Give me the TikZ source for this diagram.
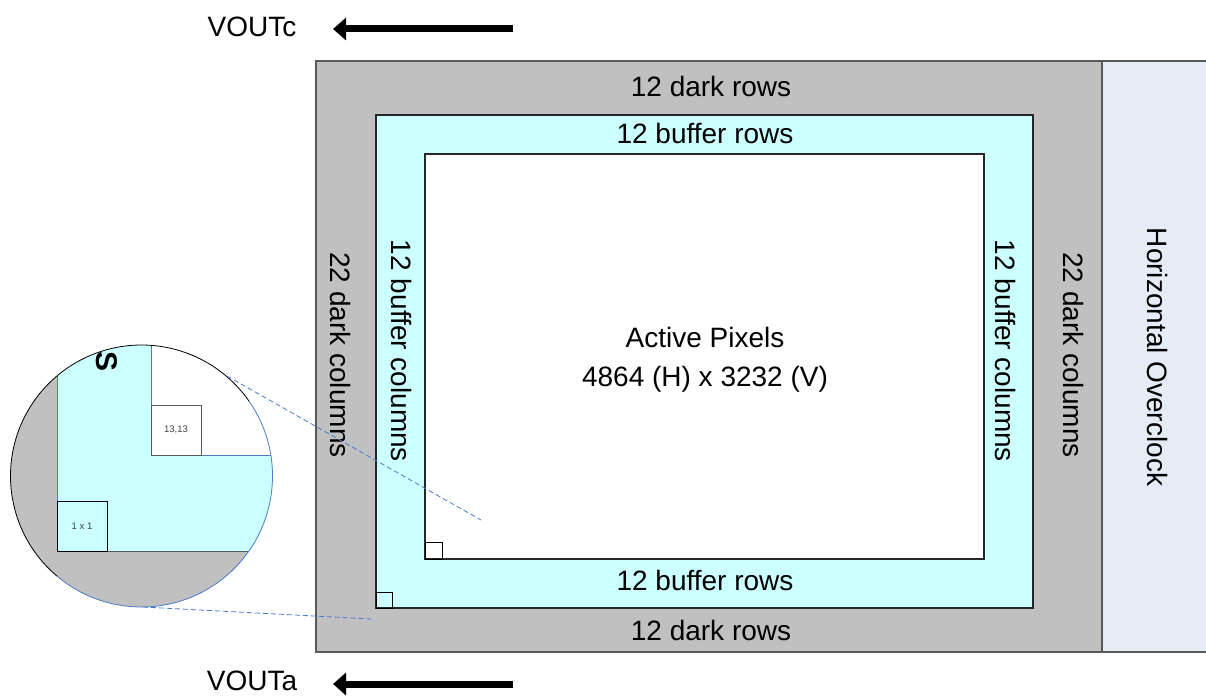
\documentclass[tikz,border=0pt]{standalone}
\usepackage{fontspec}
\setmainfont{Liberation Sans}
\usetikzlibrary{arrows.meta}
\definecolor{darkfill}{HTML}{C0C0C0}
\definecolor{buf}{HTML}{CCFFFF}
\definecolor{ovc}{HTML}{E6ECF6}
\definecolor{zoomblue}{HTML}{4A7BCB}
\definecolor{edgegray}{HTML}{595959}
\definecolor{txtgray}{HTML}{404040}
\begin{document}
\begin{tikzpicture}[x=1pt,y=-1pt,
  lbl/.style={font=\fontsize{28}{30}\selectfont, inner sep=0pt},
  blbl/.style={lbl, anchor=base},
  vlbl/.style={lbl, rotate=-90},
  small/.style={font=\fontsize{9.5}{10}\selectfont, text=txtgray, inner sep=0pt},
  bigarrow/.style={line width=7pt, -{Triangle[length=13pt,width=22pt]}},
  zoomline/.style={draw=zoomblue, dashed, dash pattern=on 5pt off 3pt, line width=0.8pt}]
\useasboundingbox (0,0) rectangle (1206,698);

% overclock region
\fill[ovc] (1102,61) rectangle (1206,652);
\draw[edgegray, line width=1.5pt] (1102,61) -- (1206,61);
\draw[edgegray, line width=1.5pt] (1102,652) -- (1206,652);
% dark region
\draw[fill=darkfill, draw=edgegray, line width=1.5pt] (316,61) rectangle (1102,652);
% buffer region
\draw[fill=buf, draw=black!85, line width=1.2pt] (376,115) rectangle (1033,608);
% active region
\draw[fill=white, draw=black!85, line width=1.2pt] (425,154) rectangle (984,559);

% corner pixels
\draw[black, line width=1pt] (425,542) rectangle (442,559);
\draw[black, line width=1pt] (376,592) rectangle (392,608);

% labels
\node[blbl] (dt) at (711,96) {12 dark rows};
\node[lbl] (db) at (711,630) {12 dark rows};
\node[blbl] (bt) at (705,143) {12 buffer rows};
\node[lbl] (bb) at (705,580) {12 buffer rows};
\node[vlbl] (dl) at (341,355) {22 dark columns};
\node[vlbl] (bl) at (402,351) {12 buffer columns};
\node[vlbl] (br) at (1005,351) {12 buffer columns};
\node[vlbl] (dr) at (1073,355) {22 dark columns};
\node[vlbl] (ov) at (1157,357) {Horizontal Overclock};
\node[blbl] (act1) at (705,347) {Active Pixels};
\node[blbl] (act2) at (705,386) {4864 (H) x 3232 (V)};

% output arrows
\node[lbl] (vc) at (252,27) {VOUTc};
\node[lbl] (va) at (252,681) {VOUTa};
\coordinate (ac1) at (513,29);
\coordinate (ac0) at (333,29);
\coordinate (aa1) at (513,684);
\coordinate (aa0) at (333,684);
\draw[bigarrow] (ac1) -- (ac0);
\draw[bigarrow] (aa1) -- (aa0);

% magnifier
\coordinate (mc) at (141.5,476);
\begin{scope}
  \clip (mc) circle (131);
  \fill[darkfill] (0,330) rectangle (290,620);
  \fill[buf] (57,330) rectangle (290,551);
  \fill[white] (151,330) rectangle (290,455);
  \draw[zoomblue, line width=0.8pt] (57,330) -- (57,551);
  \draw[edgegray, line width=0.8pt] (57,551) -- (290,551);
  \draw[zoomblue, line width=0.8pt] (151,330) -- (151,455) -- (290,455);
\end{scope}
\draw[black, line width=0.8pt] (mc) ++(129.9:131) arc[start angle=129.9, end angle=325.1, radius=131];
\draw[zoomblue, line width=0.8pt] (mc) ++(-34.9:131) arc[start angle=-34.9, end angle=129.9, radius=131];
\draw[fill=white, draw=edgegray, line width=0.8pt] (151,405) rectangle (201,455);
\node[small] (p13) at (176,430) {13,13};
\draw[fill=buf, draw=black, line width=0.8pt] (57,501) rectangle (107,551);
\node[small] (p11) at (82,526) {1 x 1};
\node[font=\bfseries\fontsize{30}{30}\selectfont, rotate=-90, inner sep=0pt] (ss) at (107,362) {S};

% zoom connectors
\coordinate (z1a) at (227,376);
\coordinate (z1b) at (481,520);
\coordinate (z2a) at (143,607);
\coordinate (z2b) at (371,619);
\draw[zoomline] (z1a) -- (z1b);
\draw[zoomline] (z2a) -- (z2b);
\end{tikzpicture}
\end{document}
